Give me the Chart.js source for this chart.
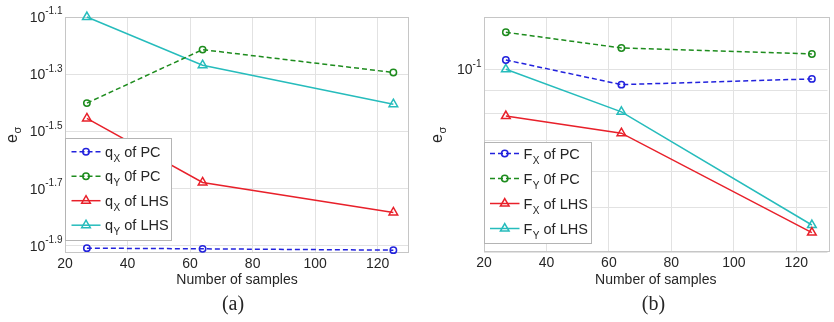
<!DOCTYPE html>
<html><head><meta charset="utf-8">
<script src="https://cdn.jsdelivr.net/npm/chart.js@4/dist/chart.umd.min.js"></script>
<style>
html,body{margin:0;padding:0;background:#fff;overflow:hidden;width:834px;height:322px}
#a{position:absolute;left:0;top:0;width:420px;height:322px}
#b{position:absolute;left:420px;top:0;width:414px;height:322px}
canvas{display:block}
</style></head><body>
<div id="a"><canvas id="ca" width="420" height="322"></canvas></div>
<div id="b"><canvas id="cb" width="414" height="322"></canvas></div>
<script>
// ---- data ----
const samples = [27, 64, 125];
const xTickStep = 20;

// panel (a)
const qX_PC  = [0.01236, 0.01229, 0.01216];
const qY_PC  = [0.03972, 0.06109, 0.05082];
const qX_LHS = [0.03511, 0.02097, 0.01648];
const qY_LHS = [0.07943, 0.05387, 0.03937];

// panel (b)
const FX_PC  = [0.1048, 0.0926, 0.0953];
const FY_PC  = [0.1204, 0.1113, 0.1080];
const FX_LHS = [0.0791, 0.0726, 0.0441];
const FY_LHS = [0.1000, 0.0808, 0.0458];

// y tick labels (powers of ten)
const yTickExpA = ['-1.1', '-1.3', '-1.5', '-1.7', '-1.9'];
const yGridB = [0.04, 0.05, 0.06, 0.07, 0.08, 0.09, 0.1];
const yTickExpB = ['-1'];

const legendA = [['q','X',' of PC'], ['q','Y',' 0f PC'], ['q','X',' of LHS'], ['q','Y',' of LHS']];
const legendB = [['F','X',' of PC'], ['F','Y',' 0f PC'], ['F','X',' of LHS'], ['F','Y',' of LHS']];

// ---- styling ----
const SANS = "'Liberation Sans', Arial, Helvetica, sans-serif";
const SERIF = "'Liberation Serif', 'Times New Roman', serif";
const TXT = '#262626';
const C = {blue:'#2222dd', green:'#1e8c1e', red:'#e8202a', cyan:'#26bcbc'};

function ds(label, vals, color, pc) {
  return {
    label, data: samples.map((x, i) => ({x, y: vals[i]})),
    borderColor: color, backgroundColor: 'rgba(0,0,0,0)',
    borderWidth: 1.5, borderDash: pc ? [5, 3] : [],
    pointStyle: pc ? 'circle' : 'triangle', pointRadius: pc ? 3.2 : 5,
    pointBorderWidth: 1.5, pointBackgroundColor: 'rgba(0,0,0,0)', pointBorderColor: color,
    pointHoverRadius: pc ? 3.2 : 5,
    tension: 0, fill: false, clip: false
  };
}

function decoPlugin(cfg) {
  return {
    id: 'deco',
    beforeDatasetsDraw(chart) {
      const {ctx, chartArea: a} = chart;
      ctx.save();
      ctx.strokeStyle = '#c6c6c6'; ctx.lineWidth = 1;
      ctx.strokeRect(Math.round(a.left) + 0.5, Math.round(a.top) + 0.5,
                     Math.round(a.right - a.left) - 1 + cfg.frameExtra, Math.round(a.bottom - a.top) - 1);
      ctx.restore();
    },
    afterDatasetsDraw(chart) {
      const {ctx, chartArea: a} = chart;
      const ys = chart.scales.y;
      ctx.save();
      // y tick labels 10^exp
      ctx.fillStyle = TXT;
      ctx.textBaseline = 'alphabetic';
      cfg.yLabels.forEach(([v, e]) => {
        const y = ys.getPixelForValue(v);
        ctx.font = '10px ' + SANS;
        const we = ctx.measureText(e).width;
        const ex = a.left - 2.5 - we;
        ctx.textAlign = 'left';
        ctx.fillText(e, ex, y - 2.7);
        ctx.font = '14px ' + SANS;
        ctx.textAlign = 'right';
        ctx.fillText('10', ex, y + 5);
      });
      // y axis title e_sigma
      ctx.save();
      ctx.translate(cfg.yTitle[0], cfg.yTitle[1]);
      ctx.rotate(-Math.PI / 2);
      ctx.textAlign = 'left';
      ctx.font = '16px ' + SANS;
      ctx.fillText('e', 0, 0);
      const we = ctx.measureText('e').width;
      ctx.font = '11px ' + SANS;
      ctx.fillText('σ', we + 0.5, 4);
      ctx.restore();
      // legend
      const L = cfg.legend;
      ctx.fillStyle = '#fff';
      ctx.fillRect(L.x, L.y, L.w, L.h);
      ctx.strokeStyle = '#b4b4b4'; ctx.lineWidth = 1;
      ctx.strokeRect(L.x + 0.5, L.y + 0.5, L.w, L.h);
      cfg.legendItems.forEach((it, i) => {
        const d = chart.data.datasets[i];
        const y = L.y0 + i * L.dy;
        ctx.strokeStyle = d.borderColor; ctx.lineWidth = d.borderWidth;
        ctx.setLineDash(d.borderDash);
        ctx.beginPath(); ctx.moveTo(L.lx0, y); ctx.lineTo(L.lx1, y); ctx.stroke();
        ctx.setLineDash([]);
        ctx.fillStyle = 'rgba(0,0,0,0)';
        ctx.lineWidth = d.pointBorderWidth;
        Chart.helpers.drawPoint(ctx, {pointStyle: d.pointStyle, radius: d.pointRadius, borderWidth: d.pointBorderWidth, rotation: 0}, (L.lx0 + L.lx1) / 2, y);
        ctx.fillStyle = TXT;
        ctx.textAlign = 'left';
        let x = L.tx;
        ctx.font = '14.5px ' + SANS;
        ctx.fillText(it[0], x, y + 5);
        x += ctx.measureText(it[0]).width + 0.5;
        ctx.font = '10px ' + SANS;
        ctx.fillText(it[1], x, y + 10);
        x += ctx.measureText(it[1]).width;
        ctx.font = '14.5px ' + SANS;
        ctx.fillText(it[2], x, y + 5);
      });
      // panel letter
      ctx.font = '20px ' + SERIF;
      ctx.textAlign = 'center';
      ctx.fillText(cfg.letter, cfg.letterXY[0], cfg.letterXY[1]);
      ctx.restore();
    }
  };
}

function makeChart(id, sets, yScale, cfg) {
  return new Chart(document.getElementById(id), {
    type: 'line',
    data: {datasets: sets},
    options: {
      responsive: false, animation: false, devicePixelRatio: 1,
      layout: {padding: cfg.padding},
      plugins: {legend: {display: false}, tooltip: {enabled: false}},
      scales: {
        x: {
          type: 'linear', min: 20, max: 130,
          ticks: {stepSize: xTickStep, includeBounds: false, font: {family: SANS, size: 14}, color: TXT, padding: 3, maxRotation: 0, autoSkip: false},
          grid: {color: '#e2e2e2', drawTicks: false},
          border: {display: false},
          title: {display: true, text: 'Number of samples', font: {family: SANS, size: 14}, color: TXT, padding: {top: 0, bottom: 33.5}},
          afterFit(s) { s.height = cfg.xHeight; }
        },
        y: Object.assign({
          type: 'logarithmic',
          ticks: {display: false},
          grid: {color: '#e2e2e2', drawTicks: false},
          border: {display: false},
          afterFit(s) { s.width = cfg.yWidth; }
        }, yScale)
      }
    },
    plugins: [decoPlugin(cfg)]
  });
}

// panel (a)
makeChart('ca', [
  ds('qX of PC', qX_PC, C.blue, true),
  ds('qY 0f PC', qY_PC, C.green, true),
  ds('qX of LHS', qX_LHS, C.red, false),
  ds('qY of LHS', qY_LHS, C.cyan, false)
], {
  min: Math.pow(10, -1.925), max: Math.pow(10, -1.1),
  afterBuildTicks(s) { s.ticks = yTickExpA.map(e => ({value: Math.pow(10, parseFloat(e))})); }
}, {
  padding: {left: 0, right: 11, top: 17, bottom: 0},
  xHeight: 69, yWidth: 65, frameExtra: 0,
  yLabels: yTickExpA.map(e => [Math.pow(10, parseFloat(e)), e]),
  yTitle: [16.7, 143],
  legend: {x: 65, y: 138, w: 106, h: 102, y0: 151.7, dy: 24.5, lx0: 71.5, lx1: 100.5, tx: 105},
  legendItems: legendA,
  letter: '(a)', letterXY: [233, 310]
});

// panel (b)
makeChart('cb', [
  ds('FX of PC', FX_PC, C.blue, true),
  ds('FY 0f PC', FY_PC, C.green, true),
  ds('FX of LHS', FX_LHS, C.red, false),
  ds('FY of LHS', FY_LHS, C.cyan, false)
], {
  min: 0.04, max: 0.13,
  afterBuildTicks(s) { s.ticks = yGridB.map(v => ({value: v})); }
}, {
  padding: {left: 0, right: 0, top: 17, bottom: 0},
  xHeight: 70, yWidth: 64, frameExtra: 2,
  yLabels: [[0.1, yTickExpB[0]]],
  yTitle: [21.7, 143],
  legend: {x: 64, y: 142, w: 107, h: 101, y0: 153.5, dy: 25, lx0: 70, lx1: 99.5, tx: 103.5},
  legendItems: legendB,
  letter: '(b)', letterXY: [233.5, 310]
});
</script>
</body></html>
